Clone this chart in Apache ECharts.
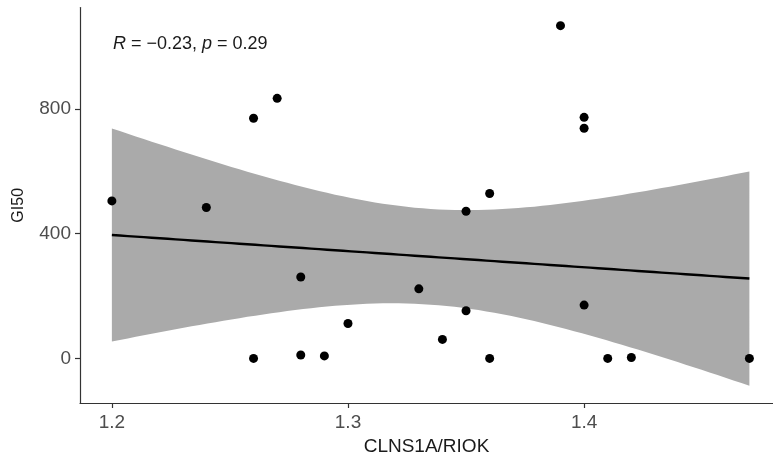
<!DOCTYPE html>
<html>
<head>
<meta charset="utf-8">
<script src="https://cdn.jsdelivr.net/npm/echarts@6/dist/echarts.min.js"></script>
<style>html,body{margin:0;padding:0;background:#fff}#c{width:773px;height:459px}</style>
</head>
<body>
<div id="c"></div>
<script>
// Data
const ratioX = [1.20, 1.24, 1.26, 1.26, 1.27, 1.28, 1.28, 1.29, 1.30, 1.33, 1.34, 1.35, 1.35, 1.36, 1.36, 1.39, 1.40, 1.40, 1.40, 1.41, 1.42, 1.47];
const gi50Y  = [505,  484,  0,    770,  834,  261,  11,   8,    112,  223,  61,   472,  153,  529,  0,    1067, 773,  738,  171,  0,    3,    0];
const xTicks = [1.2, 1.3, 1.4];
const yTicks = [0, 400, 800];
const annotation = { R: '−0.23', p: '0.29' };

// Linear fit with 95% confidence band (as geom_smooth(method = "lm"))
const n = ratioX.length;
const mx = ratioX.reduce((a, b) => a + b, 0) / n;
const my = gi50Y.reduce((a, b) => a + b, 0) / n;
let sxx = 0, sxy = 0;
for (let i = 0; i < n; i++) { sxx += (ratioX[i] - mx) ** 2; sxy += (ratioX[i] - mx) * (gi50Y[i] - my); }
const slope = sxy / sxx, icpt = my - slope * mx;
let sse = 0;
for (let i = 0; i < n; i++) { sse += (gi50Y[i] - (icpt + slope * ratioX[i])) ** 2; }
const sRes = Math.sqrt(sse / (n - 2));
const tCrit = 2.086; // t(0.975, df = 20)
const xMinD = Math.min(...ratioX), xMaxD = Math.max(...ratioX);
const fitX = [], fitY = [], lowY = [], upY = [];
const steps = 80;
for (let k = 0; k <= steps; k++) {
  const x = xMinD + (xMaxD - xMinD) * k / steps;
  const yh = icpt + slope * x;
  const se = sRes * Math.sqrt(1 / n + (x - mx) ** 2 / sxx);
  fitX.push(x); fitY.push(yh); lowY.push(yh - tCrit * se); upY.push(yh + tCrit * se);
}

const chart = echarts.init(document.getElementById('c'), null, { renderer: 'canvas' });
const axisCol = '#333333';
const labelCol = '#4d4d4d';
const font = 'Liberation Sans, Arial, sans-serif';

chart.setOption({
  animation: false,
  backgroundColor: '#ffffff',
  grid: { left: 80, right: 0, top: 7.6, bottom: 56, containLabel: false, outerBoundsMode: 'none' },
  title: {
    text: '{i|R} = ' + annotation.R + ', {i|p} = ' + annotation.p,
    left: 108, top: 30,
    textStyle: {
      fontFamily: font, fontSize: 18, color: '#1a1a1a', fontWeight: 'normal',
      rich: { i: { fontStyle: 'italic', fontFamily: font, fontSize: 18, color: '#1a1a1a' } }
    }
  },
  xAxis: {
    type: 'value', min: 1.1865, max: 1.48,
    name: 'CLNS1A/RIOK', nameLocation: 'middle', nameGap: 33,
    nameTextStyle: { fontFamily: font, fontSize: 19, color: '#1a1a1a' },
    splitLine: { show: false },
    axisLine: { show: true, onZero: false, lineStyle: { color: axisCol, width: 1.2 } },
    axisTick: { show: true, length: 5, customValues: xTicks, lineStyle: { color: axisCol, width: 1.2 } },
    axisLabel: { customValues: xTicks, fontFamily: font, fontSize: 19, color: labelCol, margin: 10,
      formatter: v => v.toFixed(1) }
  },
  yAxis: {
    type: 'value', min: -143, max: 1125,
    name: 'GI50', nameLocation: 'middle', nameGap: 53, nameRotate: 90,
    nameTextStyle: { fontFamily: font, fontSize: 16, color: '#1a1a1a' },
    splitLine: { show: false },
    axisLine: { show: true, onZero: false, lineStyle: { color: axisCol, width: 1.2 } },
    axisTick: { show: true, length: 5, customValues: yTicks, lineStyle: { color: axisCol, width: 1.2 } },
    axisLabel: { customValues: yTicks, fontFamily: font, fontSize: 19, color: labelCol, margin: 9 }
  },
  series: [
    {
      type: 'custom', z: 1, silent: true,
      data: [0],
      renderItem: function (params, api) {
        const pts = [];
        for (let k = 0; k < fitX.length; k++) pts.push(api.coord([fitX[k], upY[k]]));
        for (let k = fitX.length - 1; k >= 0; k--) pts.push(api.coord([fitX[k], lowY[k]]));
        return { type: 'polygon', shape: { points: pts }, style: { fill: '#aaaaaa' } };
      }
    },
    {
      type: 'line', z: 2, silent: true, symbol: 'none',
      data: fitX.map((x, i) => [x, fitY[i]]),
      lineStyle: { color: '#000000', width: 2.4 }
    },
    {
      type: 'scatter', z: 3, silent: true,
      data: ratioX.map((x, i) => [x, gi50Y[i]]),
      symbolSize: 9,
      itemStyle: { color: '#000000', opacity: 1 }
    }
  ]
});
</script>
</body>
</html>
